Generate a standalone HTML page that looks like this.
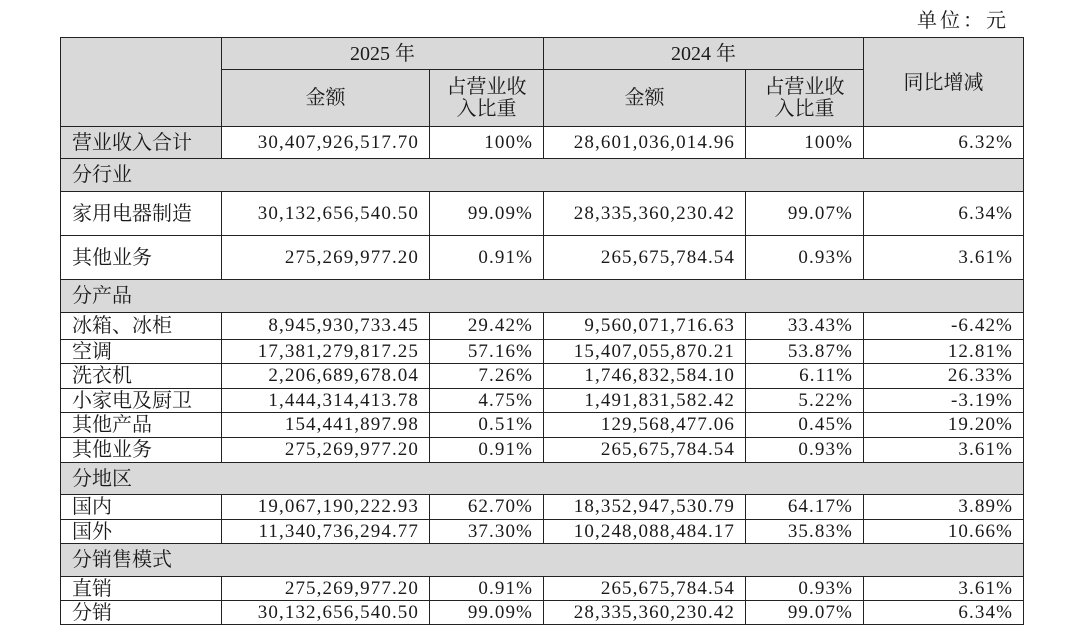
<!DOCTYPE html>
<html><head><meta charset="utf-8"><style>
body{margin:0;width:1081px;height:640px;background:#fff;position:relative;overflow:hidden;color:#1a1a1a;}
.u{position:absolute;left:917px;top:4px;font:20px "Liberation Serif","Noto Serif CJK SC",serif;letter-spacing:3px;}
table{position:absolute;left:60px;top:37px;border-collapse:collapse;table-layout:fixed;width:964px;}
td{border:1px solid #222;padding:0;font:20px "Liberation Serif","Noto Serif CJK SC",serif;line-height:22px;white-space:nowrap;overflow:hidden;}
.g{background:#d9d9d9;}
.c{text-align:center;}
.n{text-align:right;padding-right:10px;font-size:19px;letter-spacing:1.1px;}
.l{padding-left:11px;}
</style></head><body>
<div class="u">单位：元</div>
<table>
<colgroup><col style="width:161px"><col style="width:208px"><col style="width:114px"><col style="width:202px"><col style="width:118px"><col style="width:160px"></colgroup>
<tr style="height:32px"><td class="g" rowspan="2"></td><td class="g c" colspan="2">2025 年</td><td class="g c" colspan="2">2024 年</td><td class="g c" rowspan="2" style="vertical-align:top;padding-top:34px">同比增减</td></tr>
<tr style="height:57px"><td class="g c">金额</td><td class="g c">占营业收<br>入比重</td><td class="g c">金额</td><td class="g c">占营业收<br>入比重</td></tr>
<tr style="height:32px"><td class="g l">营业收入合计</td><td class="n">30,407,926,517.70</td><td class="n">100%</td><td class="n">28,601,036,014.96</td><td class="n">100%</td><td class="n">6.32%</td></tr>
<tr style="height:33px"><td class="g l" colspan="6">分行业</td></tr>
<tr style="height:44px"><td class="l">家用电器制造</td><td class="n">30,132,656,540.50</td><td class="n">99.09%</td><td class="n">28,335,360,230.42</td><td class="n">99.07%</td><td class="n">6.34%</td></tr>
<tr style="height:44px"><td class="l">其他业务</td><td class="n">275,269,977.20</td><td class="n">0.91%</td><td class="n">265,675,784.54</td><td class="n">0.93%</td><td class="n">3.61%</td></tr>
<tr style="height:33px"><td class="g l" colspan="6">分产品</td></tr>
<tr style="height:27px"><td class="l">冰箱、冰柜</td><td class="n">8,945,930,733.45</td><td class="n">29.42%</td><td class="n">9,560,071,716.63</td><td class="n">33.43%</td><td class="n">-6.42%</td></tr>
<tr style="height:24px"><td class="l">空调</td><td class="n">17,381,279,817.25</td><td class="n">57.16%</td><td class="n">15,407,055,870.21</td><td class="n">53.87%</td><td class="n">12.81%</td></tr>
<tr style="height:25px"><td class="l">洗衣机</td><td class="n">2,206,689,678.04</td><td class="n">7.26%</td><td class="n">1,746,832,584.10</td><td class="n">6.11%</td><td class="n">26.33%</td></tr>
<tr style="height:24px"><td class="l">小家电及厨卫</td><td class="n">1,444,314,413.78</td><td class="n">4.75%</td><td class="n">1,491,831,582.42</td><td class="n">5.22%</td><td class="n">-3.19%</td></tr>
<tr style="height:25px"><td class="l">其他产品</td><td class="n">154,441,897.98</td><td class="n">0.51%</td><td class="n">129,568,477.06</td><td class="n">0.45%</td><td class="n">19.20%</td></tr>
<tr style="height:25px"><td class="l">其他业务</td><td class="n">275,269,977.20</td><td class="n">0.91%</td><td class="n">265,675,784.54</td><td class="n">0.93%</td><td class="n">3.61%</td></tr>
<tr style="height:32px"><td class="g l" colspan="6">分地区</td></tr>
<tr style="height:25px"><td class="l">国内</td><td class="n">19,067,190,222.93</td><td class="n">62.70%</td><td class="n">18,352,947,530.79</td><td class="n">64.17%</td><td class="n">3.89%</td></tr>
<tr style="height:24px"><td class="l">国外</td><td class="n">11,340,736,294.77</td><td class="n">37.30%</td><td class="n">10,248,088,484.17</td><td class="n">35.83%</td><td class="n">10.66%</td></tr>
<tr style="height:33px"><td class="g l" colspan="6">分销售模式</td></tr>
<tr style="height:24px"><td class="l">直销</td><td class="n">275,269,977.20</td><td class="n">0.91%</td><td class="n">265,675,784.54</td><td class="n">0.93%</td><td class="n">3.61%</td></tr>
<tr style="height:24px"><td class="l">分销</td><td class="n">30,132,656,540.50</td><td class="n">99.09%</td><td class="n">28,335,360,230.42</td><td class="n">99.07%</td><td class="n">6.34%</td></tr>
</table>
</body></html>
